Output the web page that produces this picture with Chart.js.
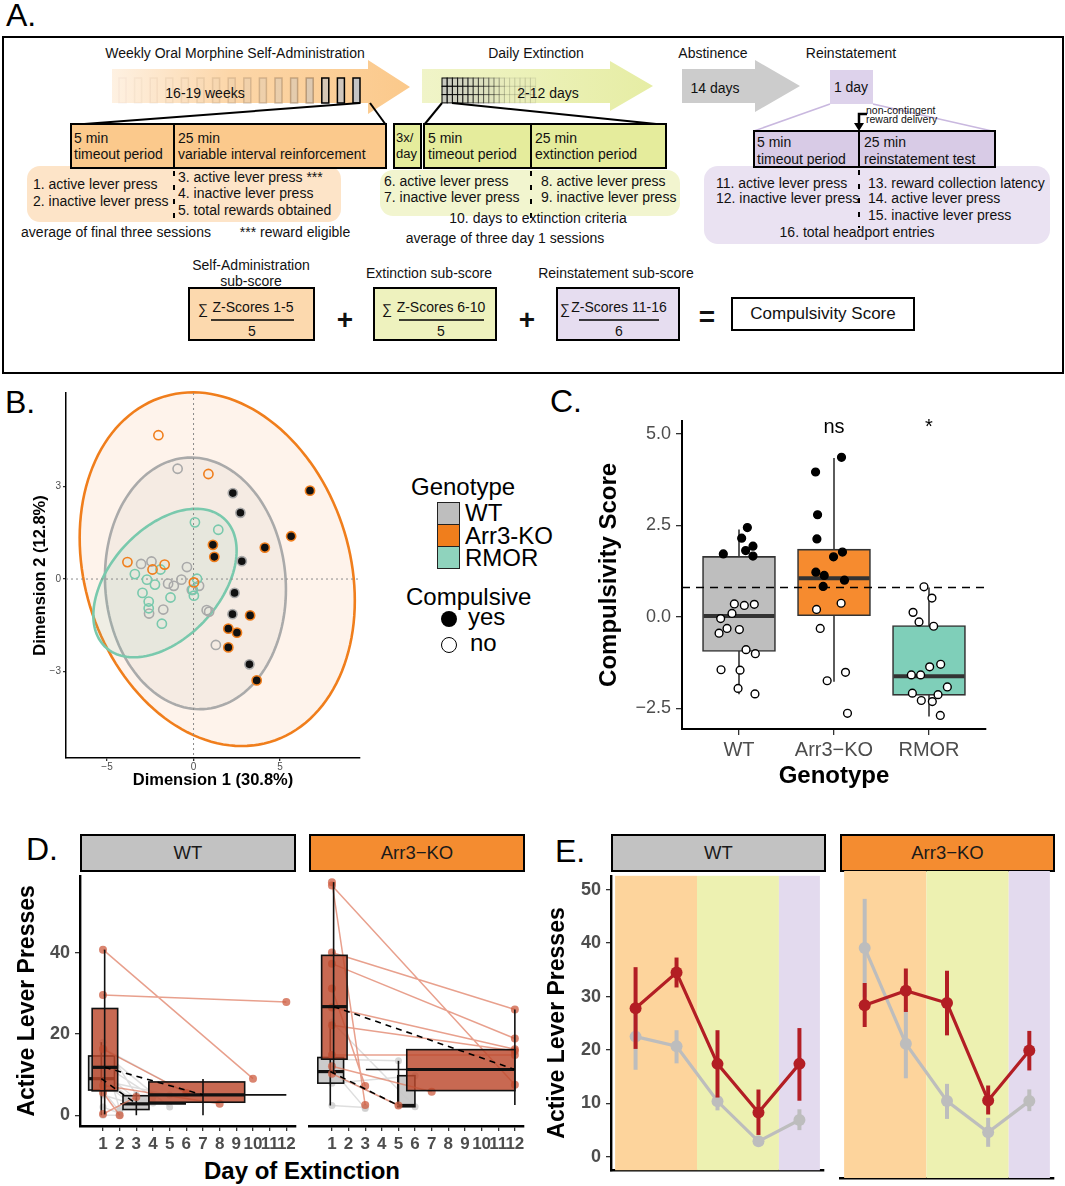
<!DOCTYPE html>
<html lang="en">
<head>
<meta charset="UTF-8">
<title>Compulsivity score figure</title>
<style>
  body { margin: 0; background: #fff; font-family: 'Liberation Sans', Arial, sans-serif; }
  #fig { position: relative; width: 1065px; height: 1186px; overflow: hidden; background: #fff; }
  .t { position: absolute; white-space: nowrap; font-size: 14px; line-height: 16px; color: #111; }
  .c { transform: translateX(-50%); }
  .lab { position: absolute; font-size: 32px; line-height: 32px; color: #000; }
  .lg { position: absolute; white-space: nowrap; font-size: 24px; line-height: 26px; color: #000; }
  .key { position: absolute; width: 23px; height: 23px; box-sizing: border-box; border: 1.5px solid #222; }
  .strip { position: absolute; box-sizing: border-box; border: 2px solid #000; font-size: 18.5px; color: #1a1a1a;
           display: flex; align-items: center; justify-content: center; }
  canvas { position: absolute; }
</style>
</head>
<body>
<div id="fig">
  <!-- A. protocol schematic -->
  <svg width="1065" height="380" style="position:absolute;left:0;top:0">
    <defs>
      <linearGradient id="gO" gradientUnits="userSpaceOnUse" x1="112" y1="0" x2="410" y2="0">
        <stop offset="0" stop-color="#fef1e2"/><stop offset="0.4" stop-color="#fcd6a8"/><stop offset="1" stop-color="#fbc98b"/>
      </linearGradient>
      <linearGradient id="gG" gradientUnits="userSpaceOnUse" x1="422" y1="0" x2="653" y2="0">
        <stop offset="0" stop-color="#f0f4c8"/><stop offset="1" stop-color="#e6eda4"/>
      </linearGradient>
    </defs>
    <rect x="3" y="37" width="1060" height="336" fill="none" stroke="#000" stroke-width="2"/>
    <polygon points="112,69 368,69 368,60 410,87 368,114 368,103 112,103" fill="url(#gO)"/>
    <g id="sess"></g>
    <polygon points="422,69 610,69 610,61 653,86 610,111 610,103 422,103" fill="url(#gG)"/>
    <g id="grid"></g>
    <polygon points="682,69 755,69 755,60 800,86 755,112 755,103 682,103" fill="#cccccc"/>
    <rect x="830" y="70" width="43" height="34" fill="#ddd2eb"/>
    <g stroke="#000" stroke-width="2">
      <line x1="360" y1="103" x2="71" y2="125"/>
      <line x1="370" y1="103" x2="386" y2="125"/>
      <line x1="442" y1="103" x2="424" y2="125"/>
      <line x1="452" y1="103" x2="666" y2="125"/>
    </g>
    <g stroke="#c9b8df" stroke-width="1.5">
      <line x1="830" y1="104" x2="754" y2="131"/>
      <line x1="873" y1="104" x2="992" y2="131"/>
    </g>
    <rect x="27" y="166" width="314" height="56" rx="13" fill="#fde4c8"/>
    <rect x="380" y="170" width="300" height="46" rx="13" fill="#f2f5cf"/>
    <rect x="704" y="166" width="346" height="78" rx="14" fill="#eae2f2"/>
    <g stroke="#000" stroke-width="2">
      <rect x="71" y="124" width="315" height="44" fill="#fbc98c"/>
      <line x1="174" y1="124" x2="174" y2="168"/>
      <rect x="394" y="124" width="27" height="44" fill="#e5ec9c"/>
      <rect x="424" y="124" width="242" height="44" fill="#e5ec9c"/>
      <line x1="531" y1="124" x2="531" y2="168"/>
      <rect x="754" y="131" width="241" height="36" fill="#d8cbe6"/>
      <line x1="859" y1="131" x2="859" y2="167"/>
    </g>
    <g stroke="#000" stroke-width="2" stroke-dasharray="5,9">
      <line x1="174" y1="171" x2="174" y2="222"/>
      <line x1="531" y1="171" x2="531" y2="222"/>
      <line x1="859" y1="170" x2="859" y2="228"/>
    </g>
    <path d="M867,114 H859 V125" fill="none" stroke="#000" stroke-width="2.5"/>
    <polygon points="854,123 864,123 859,131" fill="#000"/>
    <g stroke="#000" stroke-width="2">
      <rect x="189" y="288" width="125" height="52" fill="#fcd9ae"/>
      <rect x="374" y="288" width="122" height="52" fill="#eef2be"/>
      <rect x="557" y="288" width="122" height="52" fill="#e6ddf0"/>
      <rect x="732" y="298" width="182" height="32" fill="#fff"/>
    </g>
    <g stroke="#000" stroke-width="1.5">
      <line x1="211" y1="320" x2="294" y2="320"/>
      <line x1="399" y1="320" x2="484" y2="320"/>
      <line x1="579" y1="320" x2="659" y2="320"/>
    </g>
  </svg>

  <div class="lab" style="left:6px;top:-1px">A.</div>
  <div class="t c" style="left:235px;top:45px">Weekly Oral Morphine Self-Administration</div>
  <div class="t c" style="left:205px;top:85px">16-19 weeks</div>
  <div class="t" style="left:74px;top:130px">5 min</div>
  <div class="t" style="left:74px;top:146px">timeout period</div>
  <div class="t" style="left:178px;top:130px">25 min</div>
  <div class="t" style="left:178px;top:146px">variable interval reinforcement</div>
  <div class="t" style="left:33px;top:176px">1. active lever press</div>
  <div class="t" style="left:33px;top:193px">2. inactive lever press</div>
  <div class="t" style="left:178px;top:169px">3. active lever press ***</div>
  <div class="t" style="left:178px;top:185px">4. inactive lever press</div>
  <div class="t" style="left:178px;top:202px">5. total rewards obtained</div>
  <div class="t c" style="left:116px;top:224px">average of final three sessions</div>
  <div class="t c" style="left:295px;top:224px">*** reward eligible</div>

  <div class="t c" style="left:536px;top:45px">Daily Extinction</div>
  <div class="t c" style="left:548px;top:85px">2-12 days</div>
  <div class="t" style="left:396px;top:130px;font-size:13px">3x/</div>
  <div class="t" style="left:396px;top:146px;font-size:13px">day</div>
  <div class="t" style="left:428px;top:130px">5 min</div>
  <div class="t" style="left:428px;top:146px">timeout period</div>
  <div class="t" style="left:535px;top:130px">25 min</div>
  <div class="t" style="left:535px;top:146px">extinction period</div>
  <div class="t" style="left:384px;top:173px">6. active lever press</div>
  <div class="t" style="left:384px;top:189px">7. inactive lever press</div>
  <div class="t" style="left:541px;top:173px">8. active lever press</div>
  <div class="t" style="left:541px;top:189px">9. inactive lever press</div>
  <div class="t c" style="left:538px;top:210px">10. days to extinction criteria</div>
  <div class="t c" style="left:505px;top:230px">average of three day 1 sessions</div>

  <div class="t c" style="left:713px;top:45px">Abstinence</div>
  <div class="t c" style="left:715px;top:80px">14 days</div>
  <div class="t c" style="left:851px;top:45px">Reinstatement</div>
  <div class="t c" style="left:851px;top:79px">1 day</div>
  <div class="t" style="left:866px;top:105px;font-size:10.5px;line-height:10px">non-contingent</div>
  <div class="t" style="left:866px;top:114px;font-size:10.5px;line-height:10px">reward delivery</div>
  <div class="t" style="left:757px;top:134px">5 min</div>
  <div class="t" style="left:757px;top:151px">timeout period</div>
  <div class="t" style="left:864px;top:134px">25 min</div>
  <div class="t" style="left:864px;top:151px">reinstatement test</div>
  <div class="t" style="left:716px;top:175px">11. active lever press</div>
  <div class="t" style="left:716px;top:190px">12. inactive lever press</div>
  <div class="t" style="left:868px;top:175px">13. reward collection latency</div>
  <div class="t" style="left:868px;top:190px">14. active lever press</div>
  <div class="t" style="left:868px;top:207px">15. inactive lever press</div>
  <div class="t c" style="left:857px;top:224px">16. total headport entries</div>

  <div class="t c" style="left:251px;top:257px">Self-Administration</div>
  <div class="t c" style="left:251px;top:273px">sub-score</div>
  <div class="t c" style="left:429px;top:265px">Extinction sub-score</div>
  <div class="t c" style="left:616px;top:265px">Reinstatement sub-score</div>
  <div class="t c" style="left:203px;top:301px">∑</div>
  <div class="t c" style="left:253px;top:299px">Z-Scores 1-5</div>
  <div class="t c" style="left:252px;top:323px">5</div>
  <div class="t c" style="left:387px;top:301px">∑</div>
  <div class="t c" style="left:441px;top:299px">Z-Scores 6-10</div>
  <div class="t c" style="left:441px;top:323px">5</div>
  <div class="t c" style="left:565px;top:301px">∑</div>
  <div class="t c" style="left:619px;top:299px">Z-Scores 11-16</div>
  <div class="t c" style="left:619px;top:323px">6</div>
  <div class="t c" style="left:345px;top:305px;font-size:28px;line-height:30px;font-weight:bold">+</div>
  <div class="t c" style="left:527px;top:305px;font-size:28px;line-height:30px;font-weight:bold">+</div>
  <div class="t c" style="left:707px;top:302px;font-size:28px;line-height:30px;font-weight:bold">=</div>
  <div class="t c" style="left:823px;top:304px;font-size:17px;line-height:20px">Compulsivity Score</div>

  <!-- panel letters, legend of B, facet strips -->
  <div class="lab" style="left:5px;top:386px">B.</div>
  <div class="lab" style="left:550px;top:385px">C.</div>
  <div class="lab" style="left:26px;top:833px">D.</div>
  <div class="lab" style="left:555px;top:835px">E.</div>

  <div class="lg" style="left:411px;top:474px">Genotype</div>
  <div class="key" style="left:437px;top:502px;background:#bebebe"></div>
  <div class="key" style="left:437px;top:524px;background:#f07e1c"></div>
  <div class="key" style="left:437px;top:546px;background:#8fd3bd"></div>
  <div class="lg" style="left:465px;top:500px">WT</div>
  <div class="lg" style="left:465px;top:523px">Arr3-KO</div>
  <div class="lg" style="left:465px;top:545px">RMOR</div>
  <div class="lg" style="left:406px;top:584px">Compulsive</div>
  <div style="position:absolute;left:441px;top:611px;width:16px;height:16px;border-radius:50%;background:#000"></div>
  <div style="position:absolute;left:441px;top:637px;width:16px;height:16px;border-radius:50%;box-sizing:border-box;border:1.5px solid #000"></div>
  <div class="lg" style="left:468px;top:604px">yes</div>
  <div class="lg" style="left:470px;top:630px">no</div>

  <div class="strip" style="left:80px;top:834px;width:216px;height:38px;background:#c2c2c2">WT</div>
  <div class="strip" style="left:309px;top:834px;width:216px;height:38px;background:#f48c30">Arr3−KO</div>
  <div class="strip" style="left:611px;top:834px;width:215px;height:38px;background:#c2c2c2">WT</div>
  <div class="strip" style="left:840px;top:834px;width:215px;height:38px;background:#f48c30">Arr3−KO</div>
  <div class="lg c" style="left:302px;top:1158px;font-weight:bold">Day of Extinction</div>
</div>

<script src="https://cdn.jsdelivr.net/npm/chart.js"></script>
<script>
// ---------- B. PCA individual scores ----------
const pcaXTicks = [-5, 0, 5];
const pcaYTicks = [-3, 0, 3];
const pcaWtNoX = [-0.92, -3.03, -2.43, -0.38, -1.47, -1.14, -0.70, -0.10, 0.32, -1.75, -2.57, 0.76, 0.90, 1.29];
const pcaWtNoY = [3.58, 0.49, 0.57, 0.39, -0.15, -0.22, -0.02, -0.35, -0.22, -0.99, -1.12, -1.01, -1.06, -2.14];
const pcaWtYesX = [2.27, 2.71, 2.79, 2.37, 2.25, 3.23];
const pcaWtYesY = [2.79, 2.15, 0.58, -0.45, -1.14, -2.77];
const pcaKoNoX = [-2.03, 0.86, -3.82, -2.37, -1.67, 0.02];
const pcaKoNoY = [4.67, 3.41, 0.55, 0.31, 0.47, -0.11];
const pcaKoYesX = [6.73, 5.64, 4.12, 1.12, 1.20, 3.27, 2.01, 2.51, 2.01, 3.65];
const pcaKoYesY = [2.87, 1.39, 1.02, 1.11, 0.72, -1.18, -1.61, -1.74, -2.22, -3.29];
const pcaRmorX = [0.08, 1.43, -3.39, -1.91, -2.69, -2.23, -2.95, -2.59, -2.59, -1.33, -1.83, 0.02, 0.20, -0.04];
const pcaRmorY = [1.84, 1.60, 0.16, 0.31, -0.02, -0.18, -0.45, -0.73, -0.95, -0.60, -1.45, -0.54, 0.01, -0.35];
// genotype ellipses: centre, first axis (ux, uy), second axis (0, vy)
const ellGenotype = ['Arr3-KO', 'WT', 'RMOR'];
const ellCx = [1.37, 0.11, -1.65];
const ellCy = [0.32, -0.14, -0.13];
const ellUx = [7.95, 5.23, 4.14];
const ellUy = [-1.02, -0.20, 1.05];
const ellVy = [5.65, 4.08, 2.17];

// ---------- C. compulsivity score by genotype ----------
const genotypes = ['WT', 'Arr3\u2212KO', 'RMOR'];
const scoreTicks = [-2.5, 0, 2.5, 5];
const boxQ1 = [-0.95, 0.03, -2.15];
const boxMed = [0.02, 1.05, -1.63];
const boxQ3 = [1.65, 1.85, -0.24];
const whiskLo = [-2.12, -1.78, -2.73];
const whiskHi = [2.39, 4.34, 0.80];
const compulsiveCut = 0.80;
const sigText = ['', 'ns', '*'];
const scWtYesX = [0.835, 1.028, 1.088, 1.070, 1.147, 1.147];
const scWtYesY = [1.72, 2.15, 2.44, 1.81, 1.93, 1.66];
const scWtNoX = [0.951, 1.056, 1.161, 0.926, 0.807, 0.790, 0.874, 1.004, 1.074, 1.172, 0.811, 1.011, 0.990, 1.168];
const scWtNoY = [0.35, 0.31, 0.34, 0.09, -0.05, -0.45, -0.32, -0.35, -0.90, -1.01, -1.45, -1.46, -1.96, -2.11];
const scKoYesX = [1.806, 2.079, 1.827, 1.820, 2.089, 1.995, 1.809, 1.897, 2.110, 1.886];
const scKoYesY = [3.96, 4.36, 2.79, 2.13, 1.77, 1.64, 1.22, 1.13, 1.00, 0.83];
const scKoNoX = [1.816, 2.075, 1.855, 1.928, 2.121, 2.142];
const scKoNoY = [0.20, 0.37, -0.32, -1.75, -1.52, -2.64];
const scRmorX = [2.947, 3.031, 2.832, 2.895, 3.049, 3.007, 3.123, 2.814, 2.912, 3.193, 2.825, 3.095, 2.919, 3.035, 3.119];
const scRmorY = [0.82, 0.51, 0.12, -0.14, -0.26, -1.37, -1.30, -1.59, -1.59, -1.92, -2.09, -2.13, -2.29, -2.32, -2.70];

// ---------- D. active lever presses across extinction ----------
const dayTicks = [1, 2, 3, 4, 5, 6, 7, 8, 9, 10, 11, 12];
const pressTicks = [0, 20, 40];
// individual animals: day-1 presses -> last extinction day and its presses
const wtNoDay1 = [0, 2, 5, 6, 7, 8, 8.5, 9.5, 10.5, 12.5, 15, 15.5, 16.5, 18];
const wtNoLastDay = [2, 2, 3, 2, 4, 3, 5, 3, 3, 4, 2, 5, 6, 3];
const wtNoLastVal = [0, 0.5, 2.5, 1, 3, 2, 5, 3, 4, 4.5, 1.5, 2, 5.5, 5];
const wtYesDay1 = [40.8, 29.6, 16.3, 7.3, 5.6, 0.3];
const wtYesLastDay = [10, 12, 6, 8, 2, 3];
const wtYesLastVal = [9.0, 27.9, 5.5, 2.8, 0, 4.5];
const koNoDay1 = [22.5, 13.5, 11.0, 10.0, 7.7, 2.3];
const koNoLastDay = [6, 5, 3, 5, 6, 3];
const koNoLastVal = [2.0, 13.1, 1.6, 2.3, 9.5, 1.8];
const koYesDay1 = [56.3, 55.5, 39.3, 36.6, 30.6, 26.0, 21.7, 14.5, 11.8, 10.0];
const koYesLastDay = [3, 12, 12, 12, 3, 12, 12, 12, 7, 5];
const koYesLastVal = [2.4, 7.3, 25.5, 18.5, 7.0, 15.9, 15.5, 14.5, 5.6, 2.3];
// box summaries: day-1 non-compulsive, day-1 compulsive, last-day non-compulsive, last-day compulsive
const boxGroup = ['grey', 'red', 'grey', 'red'];
const wtBoxX0 = [0.14, 0.35, 2.2, 3.75];
const wtBoxX1 = [1.69, 1.88, 3.76, 9.5];
const wtBoxQ1 = [6.2, 6.0, 1.4, 3.2];
const wtBoxMed = [9.0, 11.8, 2.8, 5.0];
const wtBoxQ3 = [14.6, 26.3, 4.8, 8.2];
const wtWhiskX = [0.9, 1.1, 3, 7];
const wtWhiskLo = [0, 0.2, 0, 0];
const wtWhiskHi = [18, 40.8, 5.6, 8.9];
const wtDayWhiskLo = [null, null, 2.04, 3.75];
const wtDayWhiskHi = [null, null, 5.98, 12];
const koBoxX0 = [0.15, 0.38, 4.96, 5.5];
const koBoxX1 = [1.70, 1.91, 5.99, 12.0];
const koBoxQ1 = [7.7, 13.5, 2.0, 5.9];
const koBoxMed = [10.5, 26.2, 2.3, 11.0];
const koBoxQ3 = [13.9, 38.6, 9.5, 15.8];
const koWhiskX = [0.9, 1.1, 5.0, 12];
const koWhiskLo = [2.3, 10.0, 2.0, 2.4];
const koWhiskHi = [22.5, 56.3, 13.1, 25.5];
const koDayWhiskLo = [null, null, null, 3.04];
const koDayWhiskHi = [null, null, null, 12];

// ---------- E. active lever presses by phase (mean +/- SEM) ----------
const phases = [1, 2, 3, 4, 5];
const phaseTicks = [0, 10, 20, 30, 40, 50];
const bandLo = [0.5, 2.5, 4.5];
const bandHi = [2.5, 4.5, 5.5];
const eWtYes = [27.8, 34.5, 17.4, 8.3, 17.4];
const eWtYesLo = [20.2, 31.7, 11.1, 4.1, 10.5];
const eWtYesHi = [35.5, 37.3, 23.7, 12.6, 24.1];
const eWtNo = [22.5, 20.7, 10.4, 2.9, 6.9];
const eWtNoLo = [16.3, 17.5, 8.7, 2.3, 5.0];
const eWtNoHi = [28.7, 23.7, 11.3, 3.5, 8.9];
const eKoYes = [28.5, 31.1, 28.9, 11.4, 20.4];
const eKoYesLo = [24.6, 27.3, 23.1, 8.9, 16.8];
const eKoYesHi = [32.5, 35.1, 34.7, 14.1, 23.9];
const eKoNo = [38.8, 21.6, 11.3, 5.7, 11.3];
const eKoNoLo = [30.0, 15.4, 8.1, 3.1, 9.5];
const eKoNoHi = [47.6, 27.8, 14.4, 8.3, 13.4];

// ---------- styles ----------
const ORANGE = '#f07e1c', GREY = '#a9a9a9', GREEN = '#79c9ad';
const ellStroke = [ORANGE, '#aaaaaa', GREEN];
const ellFill = ['rgba(240,126,28,0.09)', 'rgba(140,140,140,0.09)', 'rgba(110,195,165,0.10)'];
const boxFillC = ['#bebebe', '#f68b2f', '#7fcfb9'];
const boxFillD = { grey: 'rgba(200,200,200,0.95)', red: 'rgba(188,72,44,0.82)' };
const bandColor = ['#fdd49c', '#edf1b1', '#e3daee'];
const RED = '#b31e24', LIGHT = '#bdbdbd';

Chart.defaults.font.family = "'Liberation Sans', Arial, sans-serif";
Chart.defaults.color = '#4d4d4d';
Chart.defaults.animation = false;
Chart.defaults.events = [];
Chart.defaults.plugins.legend.display = false;
Chart.defaults.plugins.tooltip.enabled = false;

const minus = v => (v < 0 ? '\u2212' + Math.abs(v) : '' + v);

function place(id, left, top, w, h) {
  const c = document.createElement('canvas');
  c.id = id; c.width = w; c.height = h;
  c.style.left = left + 'px'; c.style.top = top + 'px';
  c.style.width = w + 'px'; c.style.height = h + 'px';
  document.getElementById('fig').appendChild(c);
  return c;
}

function linAxis(o) {
  const shown = o.display !== false;
  return {
    type: 'linear', position: o.position, display: shown,
    min: o.min, max: o.max, offset: false,
    afterBuildTicks: s => { s.ticks = (o.ticks || []).map(v => ({ value: v })); },
    afterFit: s => {
      if (!shown) return;
      if (o.position === 'bottom') s.height = o.size; else s.width = o.size;
    },
    ticks: { display: o.labels !== false, autoSkip: false, maxRotation: 0, minRotation: 0, padding: o.pad || 0,
             color: '#4d4d4d', font: { size: o.fs || 12, weight: o.bold ? 'bold' : 'normal' }, callback: o.fmt || (v => v) },
    grid: { display: true, drawOnChartArea: false, drawTicks: !!o.tl, tickLength: o.tl || 0, color: '#333', lineWidth: 1.3, offset: false },
    border: { display: true, color: '#000', width: o.bw || 1.5 },
    title: { display: !!o.title, text: o.title || '', color: '#000', font: { size: o.ts || 16, weight: 'bold' }, padding: o.tp || 0 }
  };
}

function scat(xs, ys, stroke, fill, r, bw) {
  return { type: 'scatter', data: xs.map((x, i) => ({ x, y: ys[i] })), pointRadius: r, pointBorderWidth: bw,
           pointBorderColor: stroke, pointBackgroundColor: fill, showLine: false };
}

// ---------- B ----------
const ellipsePlugin = {
  id: 'ellipses',
  beforeDatasetsDraw(chart) {
    const { ctx, chartArea: a, scales: { x, y } } = chart;
    ctx.save();
    ellCx.forEach((cx, k) => {
      ctx.beginPath();
      for (let i = 0; i <= 144; i++) {
        const t = i / 144 * Math.PI * 2;
        const px = x.getPixelForValue(cx + ellUx[k] * Math.cos(t));
        const py = y.getPixelForValue(ellCy[k] + ellUy[k] * Math.cos(t) + ellVy[k] * Math.sin(t));
        if (i) ctx.lineTo(px, py); else ctx.moveTo(px, py);
      }
      ctx.closePath();
      ctx.fillStyle = ellFill[k]; ctx.fill();
      ctx.strokeStyle = ellStroke[k]; ctx.lineWidth = 2.6; ctx.stroke();
    });
    ctx.setLineDash([2, 3]); ctx.strokeStyle = '#8a8a8a'; ctx.lineWidth = 1;
    ctx.beginPath();
    ctx.moveTo(x.getPixelForValue(0), a.top); ctx.lineTo(x.getPixelForValue(0), a.bottom);
    ctx.moveTo(a.left, y.getPixelForValue(0)); ctx.lineTo(a.right, y.getPixelForValue(0));
    ctx.stroke();
    ctx.restore();
  }
};

new Chart(place('chB', 0, 385, 380, 410), {
  type: 'scatter',
  data: { datasets: [
    scat(pcaKoYesX, pcaKoYesY, ORANGE, '#111', 4.6, 1.6),
    scat(pcaWtYesX, pcaWtYesY, GREY, '#111', 4.6, 1.6),
    scat(pcaKoNoX, pcaKoNoY, ORANGE, 'rgba(0,0,0,0)', 4.6, 1.6),
    scat(pcaRmorX, pcaRmorY, GREEN, 'rgba(0,0,0,0)', 4.6, 1.6),
    scat(pcaWtNoX, pcaWtNoY, GREY, 'rgba(0,0,0,0)', 4.6, 1.6)
  ] },
  options: {
    responsive: false,
    layout: { padding: { top: 7, right: 20, left: 0, bottom: 0 } },
    scales: {
      x: linAxis({ position: 'bottom', min: -7.37, max: 9.62, ticks: pcaXTicks, size: 37, fs: 10, tl: 3, pad: 0, fmt: minus,
                   title: 'Dimension 1 (30.8%)', ts: 16.5, tp: { top: 0, bottom: 5 } }),
      y: linAxis({ position: 'left', min: -5.81, max: 6.04, ticks: pcaYTicks, size: 66, fs: 10, tl: 3, pad: 2, fmt: minus,
                   title: 'Dimension 2 (12.8%)', ts: 16.5, tp: { top: 31, bottom: 0 } })
    }
  },
  plugins: [ellipsePlugin]
});

// ---------- C ----------
const C_BOX = 5;
const boxPluginC = {
  id: 'boxC',
  beforeDatasetsDraw(chart) {
    const { ctx, scales: { x, y } } = chart;
    ctx.save(); ctx.strokeStyle = '#333'; ctx.lineWidth = 1.6;
    genotypes.forEach((g, i) => {
      const px = x.getPixelForValue(i + 1);
      ctx.beginPath(); ctx.moveTo(px, y.getPixelForValue(whiskLo[i])); ctx.lineTo(px, y.getPixelForValue(whiskHi[i])); ctx.stroke();
    });
    ctx.restore();
  },
  afterDatasetDraw(chart, args) {
    if (args.index !== C_BOX) return;
    const { ctx, chartArea: a, scales: { y } } = chart;
    ctx.save();
    ctx.strokeStyle = '#333'; ctx.lineWidth = 4;
    args.meta.data.forEach((el, i) => {
      const py = y.getPixelForValue(boxMed[i]);
      ctx.beginPath(); ctx.moveTo(el.x - el.width / 2 + 1, py); ctx.lineTo(el.x + el.width / 2 - 1, py); ctx.stroke();
    });
    ctx.strokeStyle = '#000'; ctx.lineWidth = 1.6; ctx.setLineDash([8, 6]);
    const cy = y.getPixelForValue(compulsiveCut);
    ctx.beginPath(); ctx.moveTo(a.left, cy); ctx.lineTo(a.right, cy); ctx.stroke();
    ctx.restore();
  },
  afterDatasetsDraw(chart) {
    const { ctx, scales: { x, y } } = chart;
    ctx.save(); ctx.fillStyle = '#000'; ctx.textAlign = 'center'; ctx.textBaseline = 'middle';
    ctx.font = "20px 'Liberation Sans', Arial";
    sigText.forEach((s, i) => { if (s) ctx.fillText(s, x.getPixelForValue(i + 1), y.getPixelForValue(5.17)); });
    ctx.restore();
  }
};

new Chart(place('chC', 555, 405, 445, 400), {
  type: 'scatter',
  data: { datasets: [
    scat(scWtYesX, scWtYesY, '#000', '#000', 3.9, 1.4),
    scat(scWtNoX, scWtNoY, '#000', '#fff', 3.9, 1.4),
    scat(scKoYesX, scKoYesY, '#000', '#000', 3.9, 1.4),
    scat(scKoNoX, scKoNoY, '#000', '#fff', 3.9, 1.4),
    scat(scRmorX, scRmorY, '#000', '#fff', 3.9, 1.4),
    { type: 'bar', data: boxQ1.map((q, i) => ({ x: i + 1, y: [q, boxQ3[i]] })), backgroundColor: boxFillC,
      borderColor: '#333', borderWidth: 1.6, borderSkipped: false, barThickness: 73, order: 5 }
  ] },
  options: {
    responsive: false,
    layout: { padding: { top: 13, right: 14, left: 0, bottom: 0 } },
    scales: {
      x: linAxis({ position: 'bottom', min: 0.4, max: 3.6, ticks: [1, 2, 3], size: 76, fs: 20, tl: 6, pad: 3,
                   fmt: v => genotypes[v - 1], title: 'Genotype', ts: 24, tp: { top: 0, bottom: 14 }, bw: 2 }),
      y: linAxis({ position: 'left', min: -3.07, max: 5.36, ticks: scoreTicks, size: 127, fs: 18, tl: 6, pad: 5,
                   fmt: v => (v < 0 ? '\u2212' + Math.abs(v).toFixed(1) : v.toFixed(1)),
                   title: 'Compulsivity Score', ts: 24, tp: { top: 40, bottom: 0 }, bw: 2 })
    }
  },
  plugins: [boxPluginC]
});

// ---------- D ----------
function animalPaths(day1, lastDay, lastVal) {
  const pts = [];
  day1.forEach((v, i) => { pts.push({ x: 1, y: v }, { x: lastDay[i], y: lastVal[i] }, { x: null, y: null }); });
  return pts;
}

function facetBoxes(b) {
  return {
    id: 'boxes2d',
    afterDatasetDraw(chart, args) {
      const grp = chart.data.datasets[args.index].label;
      if (grp !== 'grey' && grp !== 'red') return;
      const { ctx, scales: { x, y } } = chart;
      ctx.save();
      boxGroup.forEach((g, i) => {
        if (g !== grp) return;
        const L = x.getPixelForValue(b.x0[i]), R = x.getPixelForValue(b.x1[i]);
        const T = y.getPixelForValue(b.q3[i]), B = y.getPixelForValue(b.q1[i]);
        ctx.fillStyle = boxFillD[g]; ctx.fillRect(L, T, R - L, B - T);
        ctx.strokeStyle = '#111'; ctx.lineWidth = 1.6; ctx.strokeRect(L, T, R - L, B - T);
        const wx = x.getPixelForValue(b.wx[i]), my = y.getPixelForValue(b.med[i]);
        ctx.beginPath();
        ctx.moveTo(wx, y.getPixelForValue(b.wlo[i])); ctx.lineTo(wx, y.getPixelForValue(b.whi[i]));
        if (b.hlo[i] !== null) { ctx.moveTo(x.getPixelForValue(b.hlo[i]), my); ctx.lineTo(x.getPixelForValue(b.hhi[i]), my); }
        ctx.stroke();
        ctx.lineWidth = 3.2; ctx.beginPath(); ctx.moveTo(L, my); ctx.lineTo(R, my); ctx.stroke();
      });
      ctx.restore();
    }
  };
}

function dFacet(id, left, width, padL, padR, showY, b, noPaths, yesPaths) {
  const medians = [{ x: b.wx[0], y: b.med[0] }, { x: b.wx[2], y: b.med[2] }, { x: null, y: null },
                   { x: b.wx[1], y: b.med[1] }, { x: b.wx[3], y: b.med[3] }];
  return new Chart(place(id, left, 860, width, 326), {
    type: 'line',
    data: { datasets: [
      { label: 'median', data: medians, borderColor: '#000', borderWidth: 1.6, borderDash: [6, 5], pointRadius: 0, order: 0 },
      { label: 'red', data: yesPaths, borderColor: 'rgba(222,120,92,0.7)', borderWidth: 1.5, pointRadius: 4,
        pointBackgroundColor: 'rgba(205,92,64,0.75)', pointBorderWidth: 0, order: 1 },
      { label: 'grey', data: noPaths, borderColor: 'rgba(200,200,200,0.6)', borderWidth: 1.5, pointRadius: 3.5,
        pointBackgroundColor: 'rgba(205,205,205,0.8)', pointBorderWidth: 0, order: 2 }
    ] },
    options: {
      responsive: false, spanGaps: false,
      layout: { padding: { top: 11, right: padR, left: padL, bottom: 0 } },
      scales: {
        x: linAxis({ position: 'bottom', min: -0.38, max: 12.55, ticks: dayTicks, size: 60, fs: 17, bold: true, tl: 5, pad: 3, bw: 2.4 }),
        y: linAxis({ position: 'left', display: showY, min: -2.66, max: 59.0, ticks: pressTicks, size: 80, fs: 18, bold: true, tl: 5, pad: 5,
                     title: 'Active Lever Presses', ts: 23, tp: { top: 14, bottom: 0 }, bw: 2.4 })
      }
    },
    plugins: [facetBoxes(b)]
  });
}

dFacet('chDwt', 0, 300, 0, 4.5, true,
  { x0: wtBoxX0, x1: wtBoxX1, q1: wtBoxQ1, med: wtBoxMed, q3: wtBoxQ3, wx: wtWhiskX, wlo: wtWhiskLo, whi: wtWhiskHi, hlo: wtDayWhiskLo, hhi: wtDayWhiskHi },
  animalPaths(wtNoDay1, wtNoLastDay, wtNoLastVal), animalPaths(wtYesDay1, wtYesLastDay, wtYesLastVal));
dFacet('chDko', 300, 228, 9, 4, false,
  { x0: koBoxX0, x1: koBoxX1, q1: koBoxQ1, med: koBoxMed, q3: koBoxQ3, wx: koWhiskX, wlo: koWhiskLo, whi: koWhiskHi, hlo: koDayWhiskLo, hhi: koDayWhiskHi },
  animalPaths(koNoDay1, koNoLastDay, koNoLastVal), animalPaths(koYesDay1, koYesLastDay, koYesLastVal));

// ---------- E ----------
const phasePlugin = {
  id: 'phases',
  beforeDatasetsDraw(chart) {
    const { ctx, chartArea: a, scales: { x } } = chart;
    ctx.save();
    bandLo.forEach((lo, i) => {
      const L = x.getPixelForValue(lo), R = x.getPixelForValue(bandHi[i]);
      ctx.fillStyle = bandColor[i]; ctx.fillRect(L, a.top, R - L, a.bottom - a.top);
    });
    ctx.restore();
  },
  beforeDatasetDraw(chart, args) {
    const ds = chart.data.datasets[args.index];
    const { ctx, scales: { x, y } } = chart;
    ctx.save(); ctx.strokeStyle = ds.borderColor; ctx.lineWidth = 4;
    phases.forEach((p, i) => {
      const px = x.getPixelForValue(p);
      ctx.beginPath(); ctx.moveTo(px, y.getPixelForValue(ds.lo[i])); ctx.lineTo(px, y.getPixelForValue(ds.hi[i])); ctx.stroke();
    });
    ctx.restore();
  }
};

function eFacet(id, left, width, padL, padR, showY, yes, yesLo, yesHi, no, noLo, noHi) {
  return new Chart(place(id, left, 860, width, 326), {
    type: 'line',
    data: { datasets: [
      { label: 'compulsive', data: phases.map((p, i) => ({ x: p, y: yes[i] })), lo: yesLo, hi: yesHi,
        borderColor: RED, borderWidth: 3.2, pointRadius: 6, pointBackgroundColor: RED, pointBorderWidth: 0, order: 1 },
      { label: 'non-compulsive', data: phases.map((p, i) => ({ x: p, y: no[i] })), lo: noLo, hi: noHi,
        borderColor: LIGHT, borderWidth: 3.2, pointRadius: 6, pointBackgroundColor: LIGHT, pointBorderWidth: 0, order: 2 }
    ] },
    options: {
      responsive: false,
      layout: { padding: { top: 11, right: padR, left: padL, bottom: 0 } },
      scales: {
        x: linAxis({ position: 'bottom', min: 0.4, max: 5.6, ticks: [], labels: false, size: 8, bw: 2.4 }),
        y: linAxis({ position: 'left', display: showY, min: -2.5, max: 52.6, ticks: phaseTicks, size: 71, fs: 18, bold: true, tl: 5, pad: 5,
                     title: 'Active Lever Presses', ts: 23, tp: { top: 4, bottom: 0 }, bw: 2.4 })
      }
    },
    plugins: [phasePlugin]
  });
}

eFacet('chEwt', 540, 290, 0, 4, true, eWtYes, eWtYesLo, eWtYesHi, eWtNo, eWtNoLo, eWtNoHi);
eFacet('chEko', 830, 230, 10, 5, false, eKoYes, eKoYesLo, eKoYesHi, eKoNo, eKoNoLo, eKoNoHi);

// ---------- A: session marks inside the arrows (decoration) ----------
const NS = 'http://www.w3.org/2000/svg';
const sess = document.getElementById('sess');
for (let i = 0; i < 16; i++) {
  const k = (i + 1) / 16;
  const r = document.createElementNS(NS, 'rect');
  r.setAttribute('x', 119 + i * 15.6); r.setAttribute('y', 78); r.setAttribute('width', 7); r.setAttribute('height', 25);
  r.setAttribute('fill', '#c4c4c4'); r.setAttribute('fill-opacity', (k * k * k).toFixed(2));
  r.setAttribute('stroke', i > 12 ? '#000' : '#8a6a4a'); r.setAttribute('stroke-opacity', i > 12 ? 1 : (0.05 + k * k * 0.7).toFixed(2));
  r.setAttribute('stroke-width', 1.5);
  sess.appendChild(r);
}
const grid = document.getElementById('grid');
for (let j = 0; j < 18; j++) {
  for (let row = 0; row < 3; row++) {
    const fade = Math.max(0.08, 1 - j / 13);
    const r = document.createElementNS(NS, 'rect');
    r.setAttribute('x', 442 + j * 5.2); r.setAttribute('y', 78 + row * 8.3); r.setAttribute('width', 5.2); r.setAttribute('height', 8.3);
    r.setAttribute('fill', '#bdbdbd'); r.setAttribute('fill-opacity', (fade * 0.8).toFixed(2));
    r.setAttribute('stroke', '#000'); r.setAttribute('stroke-opacity', fade.toFixed(2)); r.setAttribute('stroke-width', 1);
    grid.appendChild(r);
  }
}
</script>
</body>
</html>
